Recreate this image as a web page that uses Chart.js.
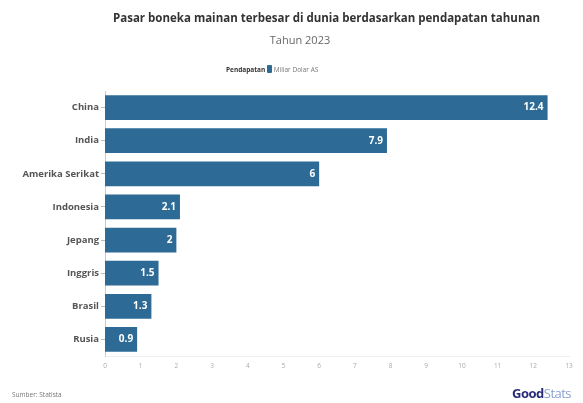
<!DOCTYPE html>
<html><head><meta charset="utf-8">
<script src="https://cdn.jsdelivr.net/npm/chart.js@4"></script>
<style>
html,body{margin:0;padding:0;background:#fff;}
body{width:583px;height:403px;position:relative;overflow:hidden;font-family:"Open Sans",sans-serif;}
#c{position:absolute;left:0;top:0;}
.t{position:absolute;white-space:nowrap;}
</style></head><body>
<canvas id="c" width="583" height="403"></canvas>
<div class="t" id="title" style="left:0;width:653px;top:10px;text-align:center;font-size:11.5px;font-weight:bold;color:#333;">Pasar boneka mainan terbesar di dunia berdasarkan pendapatan tahunan</div>
<div class="t" style="left:0;width:600px;top:32px;text-align:center;font-size:11px;color:#666;">Tahun 2023</div>
<div class="t" style="left:226px;top:65px;font-size:6.5px;color:#333;"><b>Pendapatan</b> <span style="display:inline-block;width:5px;height:8px;background:#2d6b96;vertical-align:-1px;border-radius:1px;"></span> <span style="color:#777">Miliar Dolar AS</span></div>
<div class="t" style="left:12px;top:390px;font-size:6.5px;color:#777;">Sumber: Statista</div>
<div class="t" style="left:512px;top:384px;font-size:13px;font-weight:bold;color:#2a2c7a;letter-spacing:-0.5px;">Good<span style="color:#8aa0d0;font-weight:normal;">Stats</span></div>
<script>
const categories = ["China","India","Amerika Serikat","Indonesia","Jepang","Inggris","Brasil","Rusia"];
const values = [12.4, 7.9, 6, 2.1, 2, 1.5, 1.3, 0.9];
const valueLabels = ["12.4","7.9","6","2.1","2","1.5","1.3","0.9"];
const xTicks = [0,1,2,3,4,5,6,7,8,9,10,11,12,13];

const barColor = "#2d6b96";

const labelPlugin = {
  id: "valLabels",
  afterDatasetsDraw(chart) {
    const ctx = chart.ctx;
    const meta = chart.getDatasetMeta(0);
    ctx.save();
    ctx.font = "bold 10px 'Open Sans', sans-serif";
    ctx.fillStyle = "#ffffff";
    ctx.textAlign = "right";
    ctx.textBaseline = "middle";
    meta.data.forEach((bar, i) => {
      ctx.fillText(valueLabels[i], bar.x - 4, bar.y);
    });
    ctx.restore();
  }
};

new Chart(document.getElementById("c"), {
  type: "bar",
  data: {
    labels: categories,
    datasets: [{
      data: values,
      backgroundColor: barColor,
      borderWidth: 0,
      categoryPercentage: 0.75,
      barPercentage: 1.0
    }]
  },
  options: {
    indexAxis: "y",
    responsive: false,
    animation: false,
    devicePixelRatio: 1,
    layout: { padding: { top: 91, bottom: 31, right: 14, left: 0 } },
    plugins: { legend: { display: false }, tooltip: { enabled: false } },
    scales: {
      x: {
        min: 0, max: 13,
        afterBuildTicks(axis) { axis.ticks = xTicks.map(v => ({ value: v })); },
        afterFit(axis) { axis.height = 16; },
        ticks: { font: { size: 6.5, family: "'Open Sans', sans-serif" }, color: "#aaa", padding: 6 },
        grid: { display: false, drawTicks: false },
        border: { display: true, color: "#eeeeee" }
      },
      y: {
        afterFit(axis) { axis.width = 105; },
        ticks: { font: { size: 9.5, weight: "bold", family: "'Open Sans', sans-serif" }, color: "#555", padding: 2 },
        grid: { display: true, offset: false, drawOnChartArea: false, drawTicks: true, tickLength: 4, color: "#bbbbbb" },
        border: { display: true, color: "#cccccc" }
      }
    }
  },
  plugins: [labelPlugin]
});
</script>
</body></html>
